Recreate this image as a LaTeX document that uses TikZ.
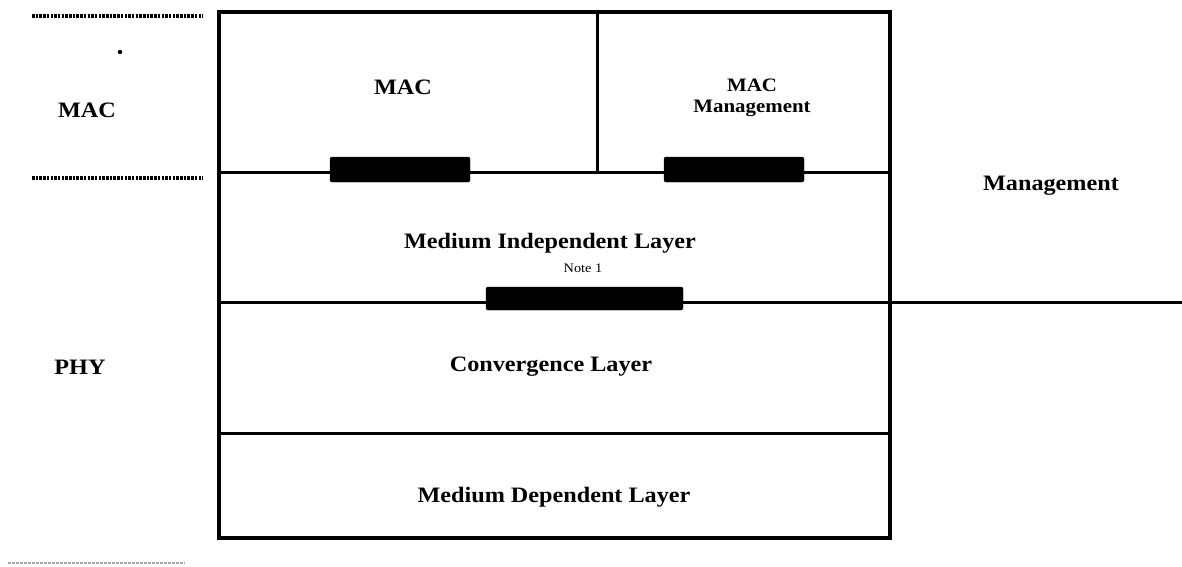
\documentclass[tikz,border=0pt]{standalone}
\usepackage{fontspec}
\setmainfont{Liberation Serif}[FakeStretch=1.1]
\begin{document}
\begin{tikzpicture}[x=1pt,y=-1pt,
  lbl/.style={font=\fontsize{22}{25}\selectfont\bfseries, inner sep=0pt, align=center},
  lbltwo/.style={font=\fontsize{19}{21}\selectfont\bfseries, inner sep=0pt, align=center},
  small/.style={font=\fontsize{13}{15}\selectfont, inner sep=0pt},
  frame/.style={line width=3.5pt},
  sep/.style={line width=3pt},
  bar/.style={fill=black, rounded corners=2pt},
  dots/.style={line width=3.2pt, dash pattern=on 2.5pt off 1.2pt},
  faint/.style={line width=1.8pt, gray!70, dash pattern=on 2.5pt off 1.5pt}]
\useasboundingbox (0,0) rectangle (1182,566);
% frame and layer separators
\draw[frame] (219,12) rectangle (890,538);
\coordinate (v1) at (597,12); \coordinate (v2) at (597,172);
\draw[sep] (v1) -- (v2);
\coordinate (a1) at (219,172); \coordinate (a2) at (890,172);
\draw[sep] (a1) -- (a2);
\coordinate (b1) at (219,302); \coordinate (b2) at (1182,302);
\draw[sep] (b1) -- (b2);
\coordinate (c1) at (219,433); \coordinate (c2) at (890,433);
\draw[sep] (c1) -- (c2);
% service access bars
\draw[bar] (330,157) rectangle (470,182);
\draw[bar] (664,157) rectangle (804,182);
\draw[bar] (486,287) rectangle (683,310);
% left dotted markers
\coordinate (d1) at (32,16); \coordinate (d2) at (203,16);
\draw[dots] (d1) -- (d2);
\coordinate (e1) at (32,178); \coordinate (e2) at (203,178);
\draw[dots] (e1) -- (e2);
\coordinate (f1) at (8,563); \coordinate (f2) at (185,563);
\draw[faint] (f1) -- (f2);
\fill (120,52) circle (2.2pt);
% labels
\node[lbl] (macl) at (87,110) {MAC};
\node[lbl] (phy) at (80,367) {PHY};
\node[lbl] (mac) at (403,87) {MAC};
\node[lbltwo] (macm) at (752,98) {MAC\\Management};
\node[lbl] (mgmt) at (1051,186) {Management};
\node[lbl] (mil) at (550,243) {Medium Independent Layer};
\node[small] (note) at (583,268) {Note 1};
\node[lbl] (conv) at (551,367) {Convergence Layer};
\node[lbl] (mdl) at (554,497) {Medium Dependent Layer};
\end{tikzpicture}
\end{document}
